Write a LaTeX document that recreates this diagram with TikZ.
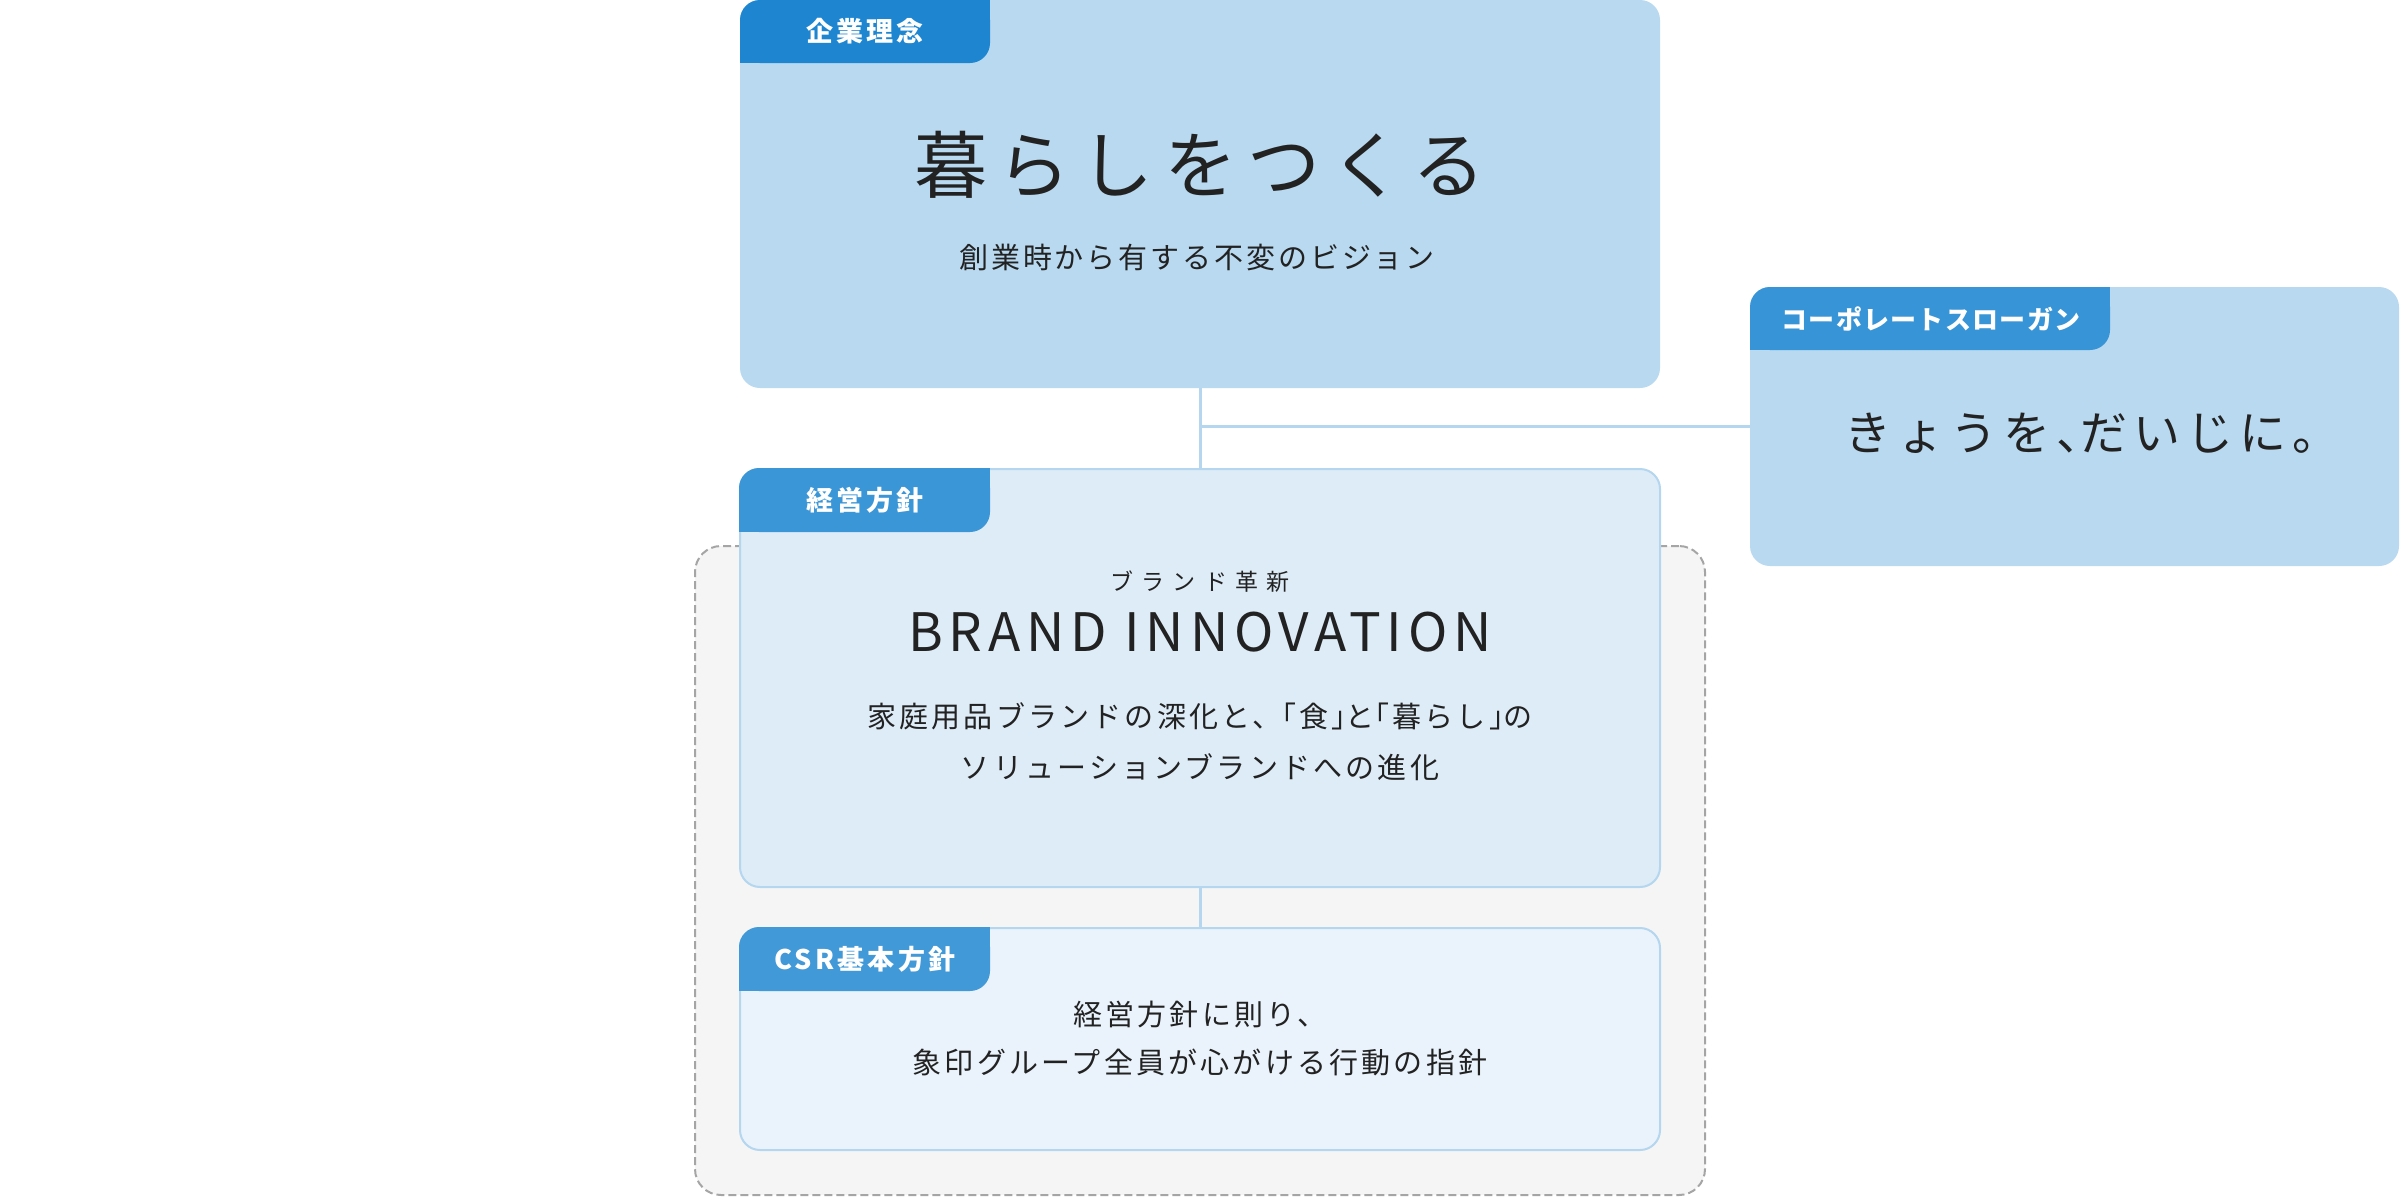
\documentclass[tikz,border=0pt]{standalone}
\usepackage{fontspec}
\setmainfont{Noto Sans CJK JP}
\definecolor{topfill}{HTML}{B8D9EF}
\definecolor{toptab}{HTML}{1E86D1}
\definecolor{slogantab}{HTML}{3794D6}
\definecolor{mgmtfill}{HTML}{DEECF8}
\definecolor{mgmttab}{HTML}{3A96D6}
\definecolor{csrfill}{HTML}{EAF3FB}
\definecolor{csrtab}{HTML}{4299D8}
\definecolor{borderc}{HTML}{B4D6EE}
\definecolor{connc}{HTML}{B4D6EE}
\definecolor{outerfill}{HTML}{F5F5F5}
\definecolor{dashc}{HTML}{A5A5A5}
\definecolor{txt}{HTML}{222222}
\newcommand\ftab{\fontsize{27}{32}\selectfont\bfseries\addfontfeature{LetterSpace=12}}
\newcommand\ftabs{\fontsize{26}{32}\selectfont\bfseries\addfontfeature{LetterSpace=5}}
\newcommand\ftitle{\fontsize{73}{80}\selectfont\addfontfeature{LetterSpace=14}}
\newcommand\fvision{\fontsize{29}{51}\selectfont\addfontfeature{LetterSpace=10}}
\newcommand\fbody{\fontsize{29}{51}\selectfont\addfontfeature{LetterSpace=11}}
\newcommand\fbodyb{\fontsize{29}{48}\selectfont\addfontfeature{LetterSpace=11}}
\newcommand\fslogan{\fontsize{47}{55}\selectfont\addfontfeature{LetterSpace=13}}
\newcommand\fruby{\fontsize{23}{28}\selectfont\addfontfeature{LetterSpace=36}}
\newcommand\feng{\fontsize{53}{60}\selectfont\addfontfeature{LetterSpace=11}}
\newcommand\tabshape[5]{%
  \fill[#5,rounded corners=20pt] (#1,#2) rectangle (#3,#4);
  \fill[#5] (#3-22,#2) rectangle (#3,#2+22);
  \fill[#5] (#1,#4-22) rectangle (#1+22,#4);}
\begin{document}
\begin{tikzpicture}[x=1pt,y=-1pt,
  box/.style={rectangle, rounded corners=20pt, inner sep=0pt},
  conn/.style={draw=connc, line width=3pt},
  tabtxt/.style={text=white, font=\ftab, inner sep=0pt},
  bodytxt/.style={text=txt, inner sep=0pt, align=center}]
\useasboundingbox (0,0) rectangle (2400,1200);
% outer dashed group
\node[box, rounded corners=26pt, fill=outerfill, draw=dashc, line width=2pt,
  dash pattern=on 8pt off 4pt, minimum width=1010pt, minimum height=649pt]
  (outer) at (1200,870.5) {};
% boxes
\node[box, fill=topfill, minimum width=920pt, minimum height=388pt] (top) at (1200,194) {};
\node[box, fill=topfill, minimum width=649pt, minimum height=279pt] (slogan) at (2074.5,426.5) {};
\node[box, fill=mgmtfill, draw=borderc, line width=2pt, minimum width=920pt, minimum height=418pt] (mgmt) at (1200,678) {};
\node[box, fill=csrfill, draw=borderc, line width=2pt, minimum width=920pt, minimum height=222pt] (csr) at (1200,1039) {};
% connectors
\draw[conn] (top.south) -- (mgmt.north);
\coordinate (joint) at (top.south |- slogan.west);
\draw[conn] (joint) -- (slogan.west);
\draw[conn] (mgmt.south) -- (csr.north);
% tabs
\tabshape{740}{0}{990}{63}{toptab}
\tabshape{1750}{287}{2110}{350}{slogantab}
\tabshape{739}{468}{990}{532}{mgmttab}
\tabshape{739}{927}{990}{991}{csrtab}
\node[tabtxt] (toplbl) at (865,31.5) {企業理念};
\node[tabtxt, font=\ftabs] (sloganlbl) at (1931,318.5) {コーポレートスローガン};
\node[tabtxt] (mgmtlbl) at (865,500) {経営方針};
\node[tabtxt] (csrlbl) at (865,959) {CSR基本方針};
% texts
\node[bodytxt, font=\ftitle] (title) at (1200,165) {暮らしをつくる};
\node[bodytxt, font=\fvision] (vision) at (1197,258) {創業時から有する不変のビジョン};
\node[bodytxt, font=\fslogan] (slogantxt) at (2092,433) {きょうを、\kern-.5em だいじに。};
\node[bodytxt, font=\fruby] (ruby) at (1200,582) {ブランド革新};
\node[bodytxt, font=\feng] (eng) at (1200,632) {BRAND INNOVATION};
\node[bodytxt, font=\fbody] (mgmttxt) at (1200,741.5)
  {家庭用品ブランドの深化と、\kern-.5em「食」\kern-.5em と\kern-.5em「暮らし」\kern-.5em の\\ソリューションブランドへの進化};
\node[bodytxt, font=\fbodyb] (csrtxt) at (1200,1038)
  {経営方針に則り、\\象印グループ全員が心がける行動の指針};
\end{tikzpicture}
\end{document}
